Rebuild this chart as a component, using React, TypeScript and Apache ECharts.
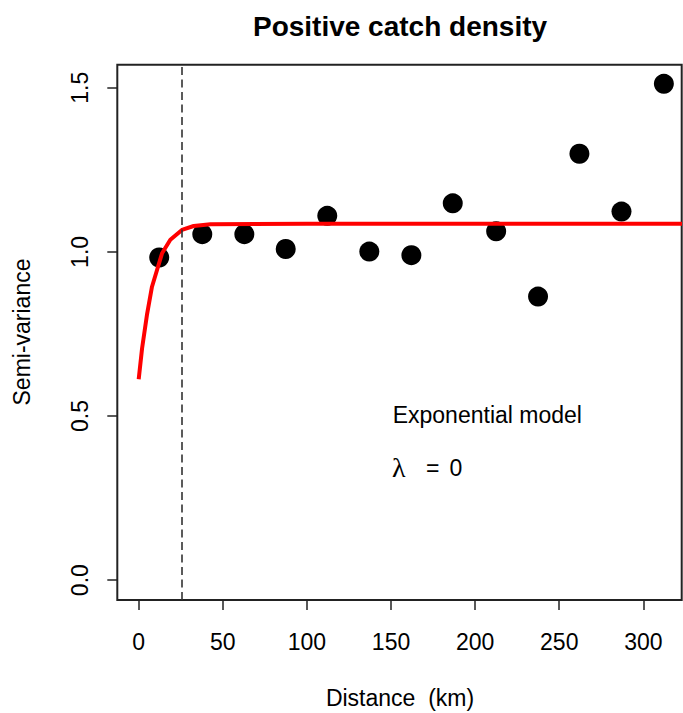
import React, { useEffect, useRef } from "react";
import * as echarts from "echarts";

const lagDistance = [12.2, 37.8, 62.8, 87.4, 112.1, 137.1, 162.1, 186.7, 212.5, 237.4, 262.0, 287.0, 312.2];
const semivariance = [0.983, 1.054, 1.054, 1.009, 1.11, 1.001, 0.99, 1.148, 1.063, 0.864, 1.299, 1.123, 1.512];

// Fitted exponential model curve
const modelDistance = [0, 2, 4.9, 7.9, 10.9, 13.9, 18.8, 25.7, 32.7, 42.6, 100, 200, 323];
const modelGamma = [0.612, 0.706, 0.808, 0.894, 0.945, 0.996, 1.037, 1.067, 1.079, 1.084, 1.086, 1.086, 1.086];

// Range (dashed vertical line)
const rangeDistance = 25.6;

// Tick labels
const xTicks = [0, 50, 100, 150, 200, 250, 300];
const yTicks = [0, 0.5, 1.0, 1.5];

const FONT = "'Liberation Sans', Arial, Helvetica, sans-serif";

export default function App() {
  const ref = useRef<HTMLDivElement>(null);

  useEffect(() => {
    if (!ref.current) return;
    const chart = echarts.init(ref.current, null, { renderer: "svg" });
    const option: any = {
      animation: false,
      backgroundColor: "#ffffff",
      grid: {
        left: 117.3,
        top: 64.7,
        width: 564.4,
        height: 535.3,
        show: true,
        borderColor: "#222",
        borderWidth: 2,
        backgroundColor: "transparent",
        outerBoundsMode: "none",
        containLabel: false,
      },
      xAxis: {
        type: "value",
        min: -12.72,
        max: 322.8,
        splitLine: { show: false },
        axisLine: { show: false, onZero: false },
        axisTick: {
          show: true,
          length: 10,
          lineStyle: { color: "#222", width: 1.5 },
          customValues: xTicks,
        },
        axisLabel: {
          customValues: xTicks,
          fontSize: 23,
          color: "#000",
          fontFamily: FONT,
          margin: 30,
        },
      },
      yAxis: {
        type: "value",
        min: -0.0604,
        max: 1.5704,
        splitLine: { show: false },
        axisLine: { show: false, onZero: false },
        axisTick: {
          show: true,
          length: 10,
          lineStyle: { color: "#222", width: 1.5 },
          customValues: yTicks,
        },
        axisLabel: {
          customValues: yTicks,
          rotate: 90,
          fontSize: 23,
          color: "#000",
          fontFamily: FONT,
          margin: 26,
          formatter: (v: number) => v.toFixed(1),
        },
      },
      graphic: [
        {
          type: "text",
          x: 400,
          y: 26,
          style: {
            text: "Positive catch density",
            font: `bold 28px ${FONT}`,
            fill: "#000",
            textAlign: "center",
            textVerticalAlign: "middle",
          },
        },
        {
          type: "text",
          x: 400,
          y: 698,
          style: {
            text: "Distance  (km)",
            font: `23px ${FONT}`,
            fill: "#000",
            textAlign: "center",
            textVerticalAlign: "middle",
          },
        },
        {
          type: "text",
          x: 22,
          y: 332,
          rotation: Math.PI / 2,
          style: {
            text: "Semi-variance",
            font: `23px ${FONT}`,
            fill: "#000",
            textAlign: "center",
            textVerticalAlign: "middle",
          },
        },
        {
          type: "text",
          x: 392.7,
          y: 415,
          style: {
            text: "Exponential model",
            font: `23px ${FONT}`,
            fill: "#000",
            textAlign: "left",
            textVerticalAlign: "middle",
          },
        },
        {
          type: "text",
          x: 392,
          y: 467,
          style: {
            text: "λ",
            font: `28px 'Liberation Serif', 'DejaVu Serif', serif`,
            fill: "#000",
            textAlign: "left",
            textVerticalAlign: "middle",
          },
        },
        {
          type: "text",
          x: 426,
          y: 468,
          style: {
            text: "=",
            font: `23px ${FONT}`,
            fill: "#000",
            textAlign: "left",
            textVerticalAlign: "middle",
          },
        },
        {
          type: "text",
          x: 449.5,
          y: 468,
          style: {
            text: "0",
            font: `23px ${FONT}`,
            fill: "#000",
            textAlign: "left",
            textVerticalAlign: "middle",
          },
        },
      ],
      series: [
        {
          type: "scatter",
          data: lagDistance.map((d, i) => [d, semivariance[i]]),
          symbol: "circle",
          symbolSize: 20,
          itemStyle: { color: "#000", opacity: 1 },
          silent: true,
          markLine: {
            silent: true,
            symbol: ["none", "none"],
            label: { show: false },
            lineStyle: { color: "#333", width: 1.6, type: [8, 4.5] },
            data: [{ xAxis: rangeDistance }],
          },
        },
        {
          type: "line",
          data: modelDistance.map((d, i) => [d, modelGamma[i]]),
          showSymbol: false,
          symbol: "none",
          smooth: false,
          clip: true,
          lineStyle: { color: "#ff0000", width: 4 },
          silent: true,
        },
      ],
    };
    chart.setOption(option);
    return () => chart.dispose();
  }, []);

  return (
    <div
      ref={ref}
      style={{ position: "fixed", left: 0, top: 0, width: 683, height: 713 }}
    />
  );
}
